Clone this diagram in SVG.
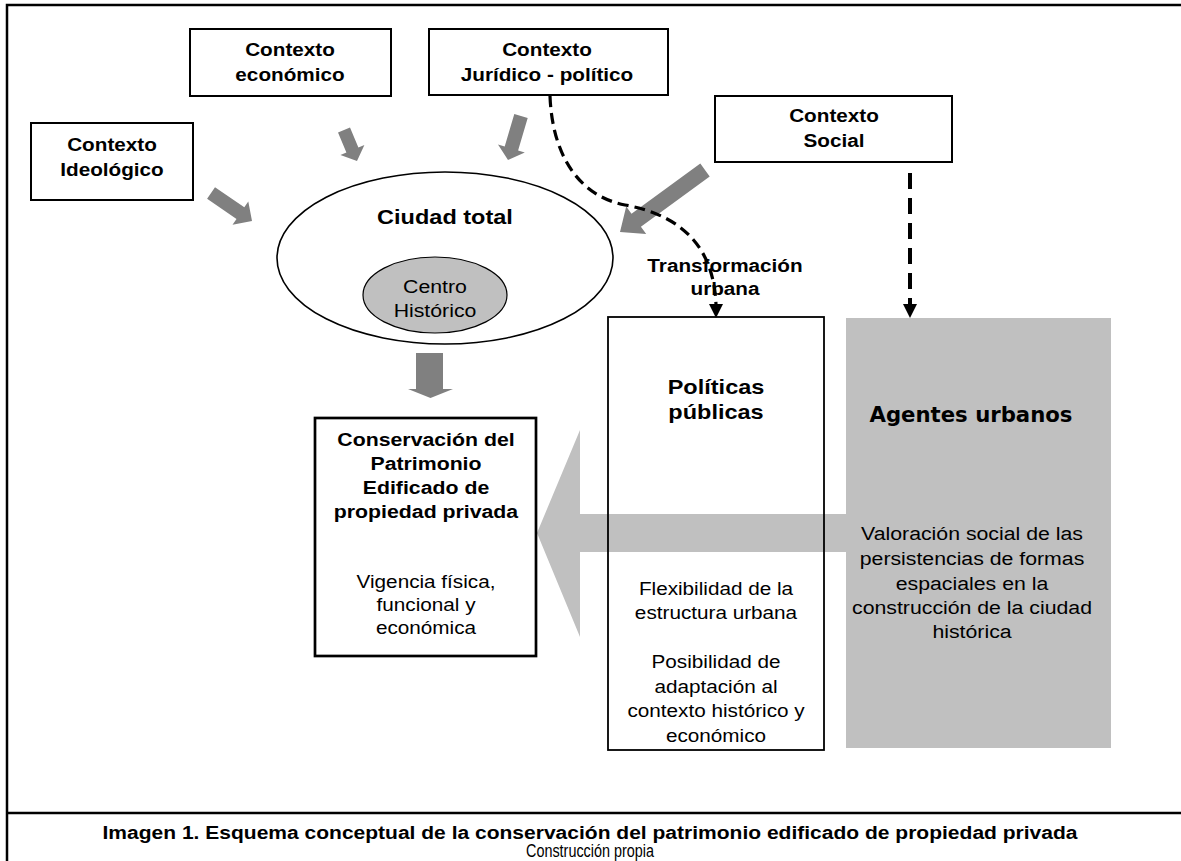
<svg xmlns="http://www.w3.org/2000/svg" width="1181" height="861" viewBox="0 0 1181 861">
<style>
.frame{stroke:#000;stroke-width:2.5;fill:none}
.box{fill:#fff;stroke:#000;stroke-width:2}
.t{font-family:"Liberation Sans",Arial,Helvetica,sans-serif;fill:#000;text-anchor:middle}
.b{font-weight:bold}
.ga{fill:#808080}
.lg{fill:#c0c0c0}
.dash{fill:none;stroke:#000;stroke-width:3.2;stroke-dasharray:11 6}
.dashv{fill:none;stroke:#000;stroke-width:4;stroke-dasharray:16 9}
.ah{fill:#000}
</style>
<rect x="0" y="0" width="1181" height="861" fill="#fff"/>
<g id="frame">
<path class="frame" d="M7,861 V5 H1181"/>
<path class="frame" d="M7,813 H1181"/>
</g>
<g id="connectors">
<polygon id="big-arrow" class="lg" points="537,533 580,430 580,514 846,514 846,552 580,552 580,637"/>
<polygon class="ga" points="207.1,198.8 236.5,218.9 232.5,224.7 252,221 248.3,201.5 244.3,207.3 215,187.2"/>
<polygon class="ga" points="338,132.5 346.4,152.4 340.4,154.9 357,161 364.4,144.9 358.4,147.4 350,127.5"/>
<polygon class="ga" points="514.3,114 504.7,146.5 498,144.5 508,160 524.8,152.5 518.1,150.5 527.7,118"/>
<polygon class="ga" points="700.3,163.5 631.5,213.7 626.2,206.5 620,232 646.2,233.9 640.9,226.7 709.7,176.5"/>
<polygon class="ga" points="416,353 443,353 443,389 453,389 430.5,398 408,389 416,389"/>
<path class="dash" d="M550,96 C552,150 575,195 625,205 C685,216 714,250 716,305"/>
<polygon class="ah" points="709,304 723,304 716,318"/>
<path class="dashv" d="M910,173 V305"/>
<polygon class="ah" points="903,304 917,304 910,318"/>
</g>
<g id="ctx-ideologico">
<rect class="box" x="31" y="123" width="162" height="77"/>
<text class="t b" font-size="18.5" transform="translate(112 0) scale(1.12 1)"><tspan x="0" y="151">Contexto</tspan><tspan x="0" y="176">Ideológico</tspan></text>
</g>
<g id="ctx-economico">
<rect class="box" x="190" y="29" width="201" height="67"/>
<text class="t b" font-size="18.5" transform="translate(290 0) scale(1.12 1)"><tspan x="0" y="56">Contexto</tspan><tspan x="0" y="81">económico</tspan></text>
</g>
<g id="ctx-juridico">
<rect class="box" x="429" y="29" width="239" height="66"/>
<text class="t b" font-size="18.5" transform="translate(547 0) scale(1.12 1)"><tspan x="0" y="56">Contexto</tspan><tspan x="0" y="81">Jurídico - político</tspan></text>
</g>
<g id="ctx-social">
<rect class="box" x="715" y="96" width="237" height="66"/>
<text class="t b" font-size="18.5" transform="translate(834 0) scale(1.12 1)"><tspan x="0" y="122">Contexto</tspan><tspan x="0" y="147">Social</tspan></text>
</g>
<g id="ciudad-total">
<ellipse cx="445" cy="258" rx="168" ry="86" fill="#fff" stroke="#000" stroke-width="1.6"/>
<text class="t b" font-size="21" transform="translate(445 0) scale(1.12 1)" x="0" y="224">Ciudad total</text>
</g>
<g id="centro-historico">
<ellipse cx="435" cy="295" rx="72" ry="38" fill="#c0c0c0" stroke="#000" stroke-width="1.2"/>
<text class="t" font-size="19" transform="translate(435 0) scale(1.12 1)"><tspan x="0" y="293">Centro</tspan><tspan x="0" y="317">Histórico</tspan></text>
</g>
<g id="transformacion">
<text class="t b" font-size="18.5" transform="translate(725 0) scale(1.12 1)"><tspan x="0" y="272">Transformación</tspan><tspan x="0" y="295">urbana</tspan></text>
</g>
<g id="conservacion">
<rect x="315" y="418" width="221" height="238" fill="#fff" stroke="#000" stroke-width="2.7"/>
<text class="t b" font-size="19" transform="translate(426 0) scale(1.12 1)"><tspan x="0" y="446">Conservación del</tspan><tspan x="0" y="470">Patrimonio</tspan><tspan x="0" y="494">Edificado de</tspan><tspan x="0" y="518">propiedad privada</tspan></text>
<text class="t" font-size="18.5" transform="translate(426 0) scale(1.12 1)"><tspan x="0" y="588">Vigencia física,</tspan><tspan x="0" y="611">funcional y</tspan><tspan x="0" y="634">económica</tspan></text>
</g>
<g id="politicas">
<rect x="608" y="317" width="216" height="433" fill="none" stroke="#000" stroke-width="1.8"/>
<text class="t b" font-size="21" transform="translate(716 0) scale(1.12 1)"><tspan x="0" y="394">Políticas</tspan><tspan x="0" y="419">públicas</tspan></text>
<text class="t" font-size="18.5" transform="translate(716 0) scale(1.12 1)"><tspan x="0" y="595">Flexibilidad de la</tspan><tspan x="0" y="619">estructura urbana</tspan><tspan x="0" y="668">Posibilidad de</tspan><tspan x="0" y="693">adaptación al</tspan><tspan x="0" y="717">contexto histórico y</tspan><tspan x="0" y="742">económico</tspan></text>
</g>
<g id="agentes">
<rect class="lg" x="846" y="318" width="265" height="430"/>
<text class="t b" font-family="'DejaVu Sans',Verdana,sans-serif" style="font-family:'DejaVu Sans',Verdana,sans-serif" font-size="21" x="971" y="422" textLength="203" lengthAdjust="spacingAndGlyphs">Agentes urbanos</text>
<text class="t" font-size="19" transform="translate(972 0) scale(1.12 1)"><tspan x="0" y="540">Valoración social de las</tspan><tspan x="0" y="565">persistencias de formas</tspan><tspan x="0" y="590">espaciales en la</tspan><tspan x="0" y="614">construcción de la ciudad</tspan><tspan x="0" y="638">histórica</tspan></text>
</g>
<g id="caption">
<text class="t b" font-size="18" x="590" y="839" textLength="975" lengthAdjust="spacingAndGlyphs">Imagen 1. Esquema conceptual de la conservación del patrimonio edificado de propiedad privada</text>
<text class="t" font-size="17.5" x="590" y="857" textLength="128" lengthAdjust="spacingAndGlyphs">Construcción propia</text>
</g>
</svg>
